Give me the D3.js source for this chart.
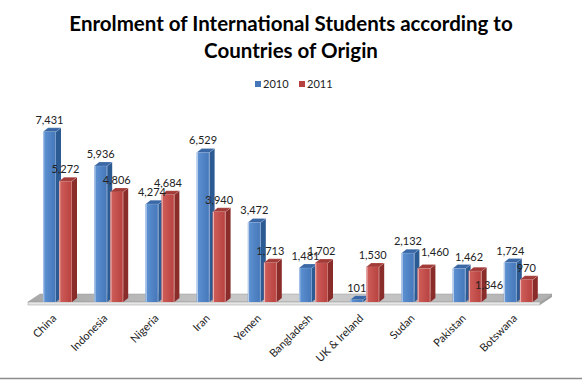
<!DOCTYPE html>
<html><head><meta charset="utf-8">
<script src="https://cdn.jsdelivr.net/npm/d3@7"></script>
<style>body{margin:0;background:#fff}svg{display:block}</style>
</head><body><svg id="c" width="582" height="380"></svg>
<script>
const categories = ["China","Indonesia","Nigeria","Iran","Yemen","Bangladesh","UK & Ireland","Sudan","Pakistan","Botswana"];
const series = ["2010","2011"];
const values2010 = [7431,5936,4274,6529,3472,1481,101,2132,1462,1724];
const values2011 = [5272,4806,4684,3940,1713,1702,1530,1460,1346,970];
const titleLines = ["Enrolment of International Students according to","Countries of Origin"];

const seriesValues = {"2010": values2010, "2011": values2011};
const colors = {
  "2010": {front0:"#5f93d4", front1:"#4476b8", side:"#2c5a93", top:"#3a68a6"},
  "2011": {front0:"#d0605c", front1:"#b7413e", side:"#8a2c2a", top:"#a33c39"}
};
const labelNudge = {"Sudan|2011":[11,-5], "Pakistan|2010":[10,0], "Pakistan|2011":[14,26]};

const svg = d3.select("#c");
const W = 582, H = 380;
const fontBase = "Lato, 'Open Sans', 'DejaVu Sans', sans-serif";

const x0 = d3.scaleBand().domain(categories).range([30, 542]).padding(0);
const x1 = d3.scaleBand().domain(series).range([13, 42]).paddingInner(0.1875).paddingOuter(0);
const y = d3.scaleLinear().domain([0, 8000]).range([302, 302 - 8000 * 0.0229]);
const dx = 5, dy = -4;

const defs = svg.append("defs");
series.forEach(s => {
  const g = defs.append("linearGradient").attr("id", "g" + s).attr("x1", "0").attr("x2", "1").attr("y1", "0").attr("y2", "0");
  g.append("stop").attr("offset", "0").attr("stop-color", colors[s].front0);
  g.append("stop").attr("offset", "1").attr("stop-color", colors[s].front1);
});
const fg = defs.append("linearGradient").attr("id", "floorTop").attr("x1", "0").attr("x2", "1").attr("y1", "0").attr("y2", "0");
fg.append("stop").attr("offset", "0").attr("stop-color", "#a8a8a8");
fg.append("stop").attr("offset", "0.5").attr("stop-color", "#cfcfcf");
fg.append("stop").attr("offset", "1").attr("stop-color", "#b0b0b0");

// Title
svg.append("g").selectAll("text").data(titleLines).join("text")
  .attr("x", W / 2).attr("y", (d, i) => 31 + i * 27)
  .attr("text-anchor", "middle")
  .attr("font-family", fontBase).attr("font-weight", "bold").attr("font-size", 20.5)
  .attr("fill", "#000").text(d => d);

// Legend
const legend = svg.append("g");
const legX = [255, 299];
series.forEach((s, i) => {
  legend.append("rect").attr("x", legX[i]).attr("y", 81).attr("width", 6).attr("height", 6)
    .attr("fill", colors[s].front1);
  legend.append("text").attr("x", legX[i] + 8).attr("y", 88)
    .attr("font-family", fontBase).attr("font-size", 11).attr("fill", "#222").text(s);
});

// Floor
const fl = 28, fr = 540, fy = y(0), fdx = 12, fdy = -8;
const floor = svg.append("g");
floor.append("polygon").attr("points", [[fl, fy], [fl + fdx, fy + fdy], [fr + fdx, fy + fdy], [fr, fy]].join(" "))
  .attr("fill", "url(#floorTop)").attr("stroke", "#999").attr("stroke-width", 0.5);
floor.append("polygon").attr("points", [[fr, fy], [fr + fdx, fy + fdy], [fr + fdx, fy + fdy + 3], [fr, fy + 3]].join(" "))
  .attr("fill", "#a0a0a0");
floor.append("rect").attr("x", fl).attr("y", fy).attr("width", fr - fl).attr("height", 3)
  .attr("fill", "#e6e6e6").attr("stroke", "#9a9a9a").attr("stroke-width", 0.5);

// Bars
const bars = svg.append("g");
categories.forEach((c, ci) => {
  series.forEach(s => {
    const v = seriesValues[s][ci];
    const x = x0(c) + x1(s), w = x1.bandwidth();
    const yt = y(v), yb = y(0);
    const g = bars.append("g");
    g.append("polygon").attr("points", [[x + w, yt], [x + w + dx, yt + dy], [x + w + dx, yb + dy], [x + w, yb]].join(" "))
      .attr("fill", colors[s].side);
    g.append("polygon").attr("points", [[x, yt], [x + dx, yt + dy], [x + w + dx, yt + dy], [x + w, yt]].join(" "))
      .attr("fill", colors[s].top).attr("stroke", "rgba(255,255,255,0.35)").attr("stroke-width", 0.5);
    g.append("rect").attr("x", x).attr("y", yt).attr("width", w).attr("height", yb - yt)
      .attr("fill", "url(#g" + s + ")");
    g.append("line").attr("x1", x + 0.8).attr("x2", x + 0.8).attr("y1", yt).attr("y2", yb)
      .attr("stroke", "rgba(255,255,255,0.6)").attr("stroke-width", 1);
    g.append("line").attr("x1", x + w - 0.5).attr("x2", x + w - 0.5).attr("y1", yt).attr("y2", yb)
      .attr("stroke", "rgba(255,255,255,0.35)").attr("stroke-width", 0.8);
  });
});

// Value labels
const labels = svg.append("g");
categories.forEach((c, ci) => {
  series.forEach(s => {
    const v = seriesValues[s][ci];
    const n = labelNudge[c + "|" + s] || [0, 0];
    labels.append("text")
      .attr("x", x0(c) + x1(s) + x1.bandwidth() / 2 + n[0])
      .attr("y", y(v) - 8 + n[1])
      .attr("text-anchor", "middle")
      .attr("font-family", fontBase).attr("font-size", 11).attr("fill", "#222")
      .text(d3.format(",")(v));
  });
});

// Category axis labels
svg.append("g").selectAll("text").data(categories).join("text")
  .attr("transform", d => `translate(${x0(d) + 27},${319}) rotate(-45)`)
  .attr("text-anchor", "end")
  .attr("font-family", fontBase).attr("font-size", 11).attr("fill", "#222")
  .text(d => d);

// Bottom border
svg.append("line").attr("x1", 0).attr("x2", W).attr("y1", 378.5).attr("y2", 378.5)
  .attr("stroke", "#8c8c8c").attr("stroke-width", 1.5);
</script></body></html>
